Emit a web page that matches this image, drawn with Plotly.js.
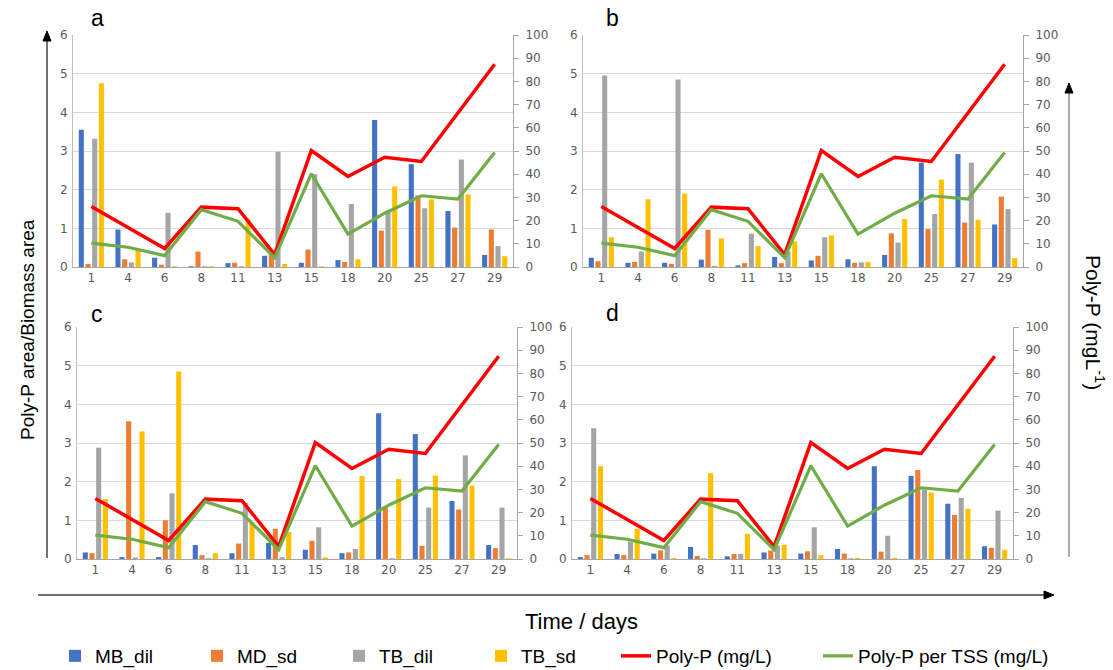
<!DOCTYPE html>
<html>
<head>
<meta charset="utf-8">
<script src="https://cdn.plot.ly/plotly-3.0.1.min.js"></script>
<style>html,body{margin:0;padding:0;background:#fff;}#chart{width:1113px;height:670px;}</style>
</head>
<body>
<div id="chart"></div>
<script>
// ---- data ----
const days = ['1','4','6','8','11','13','15','18','20','25','27','29'];
const seriesNames = ['MB_dil','MD_sd','TB_dil','TB_sd'];
const lineNames = ['Poly-P (mg/L)','Poly-P per TSS (mg/L)'];
const polyP    = [26.1, 17.2, 8.0, 25.8, 25.1, 5.3, 50.2, 39.0, 47.3, 45.5, 66.3, 87.4];
const polyPTSS = [10.3, 8.5, 4.9, 24.7, 19.7, 4.0, 40.2, 14.2, 23.2, 30.7, 29.3, 49.4];

// panel a
const aMB    = [3.55, 0.97, 0.24, 0.02, 0.10, 0.29, 0.11, 0.18, 3.80, 2.66, 1.45, 0.31];
const aMD    = [0.08, 0.20, 0.06, 0.40, 0.11, 0.40, 0.45, 0.13, 0.94, 1.85, 1.02, 0.97];
const aTBdil = [3.32, 0.12, 1.40, 0.02, 0.02, 2.98, 2.40, 1.63, 1.45, 1.52, 2.78, 0.54];
const aTBsd  = [4.75, 0.42, 0.02, 0.02, 1.25, 0.08, 0.02, 0.20, 2.08, 1.75, 1.88, 0.28];
// panel b
const bMB    = [0.24, 0.11, 0.11, 0.19, 0.04, 0.26, 0.17, 0.20, 0.31, 2.70, 2.92, 1.10];
const bMD    = [0.15, 0.13, 0.08, 0.96, 0.10, 0.10, 0.29, 0.11, 0.87, 0.98, 1.15, 1.82];
const bTBdil = [4.95, 0.40, 4.85, 0.03, 0.86, 0.40, 0.77, 0.12, 0.63, 1.37, 2.70, 1.50];
const bTBsd  = [0.77, 1.75, 1.90, 0.74, 0.54, 0.66, 0.82, 0.13, 1.24, 2.26, 1.22, 0.23];
// panel c
const cMB    = [0.17, 0.05, 0.05, 0.36, 0.15, 0.42, 0.24, 0.15, 3.77, 3.23, 1.50, 0.36];
const cMD    = [0.15, 3.56, 1.00, 0.10, 0.40, 0.78, 0.47, 0.17, 1.35, 0.34, 1.28, 0.28];
const cTBdil = [2.88, 0.04, 1.70, 0.02, 1.45, 0.05, 0.82, 0.26, 0.02, 1.33, 2.68, 1.33];
const cTBsd  = [1.55, 3.30, 4.85, 0.15, 0.95, 0.70, 0.04, 2.15, 2.07, 2.16, 1.90, 0.02];
// panel d
const dMB    = [0.05, 0.13, 0.14, 0.31, 0.07, 0.17, 0.14, 0.26, 2.40, 2.15, 1.43, 0.33];
const dMD    = [0.10, 0.10, 0.22, 0.08, 0.13, 0.22, 0.20, 0.14, 0.19, 2.30, 1.14, 0.29];
const dTBdil = [3.38, 0.45, 0.35, 0.02, 0.13, 0.35, 0.82, 0.02, 0.60, 1.80, 1.58, 1.25];
const dTBsd  = [2.40, 0.78, 0.03, 2.22, 0.65, 0.37, 0.10, 0.03, 0.03, 1.72, 1.30, 0.24];

const panelLetters = ['a','b','c','d'];
const leftTicks = [0,1,2,3,4,5,6];
const rightTicks = [0,10,20,30,40,50,60,70,80,90,100];

// ---- style ----
const barColors = ['#4472C4','#ED7D31','#A5A5A5','#FFC000'];
const lineColors = ['#FF0000','#70AD47'];
const W = 1113, H = 670;
const px = v => v / W, py = v => 1 - v / H;

const panels = [
  {bars:[aMB,aMD,aTBdil,aTBsd], xd:[73,513],  yd:[35,267],  letter:[97,18]},
  {bars:[bMB,bMD,bTBdil,bTBsd], xd:[583,1023], yd:[35,267],  letter:[612,18]},
  {bars:[cMB,cMD,cTBdil,cTBsd], xd:[77,517],  yd:[327,559], letter:[97,314]},
  {bars:[dMB,dMD,dTBdil,dTBsd], xd:[572,1013], yd:[327,559], letter:[612,313]}
];

const tickFont = {family:'DejaVu Sans, sans-serif', size:12, color:'#595959'};
const sans = 'Liberation Sans, Arial, sans-serif';

const traces = [];
const layout = {
  width:W, height:H,
  margin:{l:0,r:0,t:0,b:0,autoexpand:false},
  paper_bgcolor:'#fff', plot_bgcolor:'rgba(0,0,0,0)',
  barmode:'group', bargap:0.27, bargroupgap:0.24,
  showlegend:true,
  legend:{orientation:'h', x:px(55), y:py(656), xanchor:'left', yanchor:'middle',
          font:{family:sans, size:19, color:'#000'}, entrywidth:97, bgcolor:'rgba(0,0,0,0)'},
  legend2:{orientation:'h', x:px(616), y:py(656), xanchor:'left', yanchor:'middle',
          font:{family:sans, size:19, color:'#000'}, bgcolor:'rgba(0,0,0,0)'},
  annotations:[], shapes:[]
};

panels.forEach((p, i) => {
  const n = i + 1;
  const xId = n === 1 ? 'x' : 'x' + n;
  const yL = 2*i + 1, yR = 2*i + 2;
  const yLId = yL === 1 ? 'y' : 'y' + yL;
  const yRId = 'y' + yR;
  const xKey = n === 1 ? 'xaxis' : 'xaxis' + n;
  const yLKey = yL === 1 ? 'yaxis' : 'yaxis' + yL;
  const yRKey = 'yaxis' + yR;

  layout[xKey] = {
    domain:[px(p.xd[0]), px(p.xd[1])], anchor:yLId, type:'category',
    categoryorder:'array', categoryarray:days,
    showline:true, linecolor:'#A6A6A6', linewidth:1, ticks:'', tickfont:tickFont,
    showgrid:false, zeroline:false, fixedrange:true
  };
  layout[yLKey] = {
    domain:[py(p.yd[1]), py(p.yd[0])], anchor:xId, range:[0,6],
    tickvals:leftTicks, showline:true, linecolor:'#BFBFBF', linewidth:1, ticks:'',
    showgrid:true, gridcolor:'#D9D9D9', gridwidth:1, zeroline:false, tickfont:tickFont,
    ticklabelstandoff:2
  };
  layout[yRKey] = {
    overlaying:yLId, side:'right', anchor:xId, range:[0,100], tickvals:rightTicks,
    showline:true, linecolor:'#A6A6A6', linewidth:1, ticks:'outside', ticklen:5,
    tickcolor:'#A6A6A6', showgrid:false, zeroline:false, tickfont:tickFont,
    ticklabelstandoff:4
  };

  p.bars.forEach((vals, k) => {
    traces.push({
      type:'bar', x:days, y:vals, name:seriesNames[k], xaxis:xId, yaxis:yLId,
      marker:{color:barColors[k], line:{width:0}}, showlegend:i === 0, legend:'legend'
    });
  });
  [polyP, polyPTSS].forEach((vals, k) => {
    traces.push({
      type:'scatter', mode:'lines', x:days, y:vals, name:lineNames[k],
      xaxis:xId, yaxis:yRId, line:{color:lineColors[k], width:k === 0 ? 3.5 : 3.2},
      showlegend:i === 0, legend:'legend2', legendwidth:k === 0 ? 157 : 200
    });
  });

  layout.annotations.push({
    text:panelLetters[i], xref:'paper', yref:'paper', x:px(p.letter[0]), y:py(p.letter[1]),
    xanchor:'center', yanchor:'middle', showarrow:false,
    font:{family:sans, size:23, color:'#000'}
  });
});

// axis titles
layout.annotations.push({
  text:'Poly-P area/Biomass area', xref:'paper', yref:'paper', x:px(27), y:py(330),
  xanchor:'center', yanchor:'middle', textangle:-90, showarrow:false,
  font:{family:sans, size:19, color:'#000'}
});
layout.annotations.push({
  text:'Poly-P (mgL<sup>-1</sup>)', xref:'paper', yref:'paper', x:px(1095), y:py(322),
  xanchor:'center', yanchor:'middle', textangle:90, showarrow:false,
  font:{family:sans, size:21, color:'#000'}
});
layout.annotations.push({
  text:'Time / days', xref:'paper', yref:'paper', x:px(581), y:py(621),
  xanchor:'center', yanchor:'middle', showarrow:false,
  font:{family:sans, size:22, color:'#000'}
});

// arrows: lines + triangular heads
const arrowLine = (x0, y0, x1, y1, c) => ({type:'line', xref:'paper', yref:'paper',
  x0:px(x0), y0:py(y0), x1:px(x1), y1:py(y1), line:{color:c, width:1.3}});
const arrowHead = (pts, c) => ({type:'path', xref:'paper', yref:'paper',
  path:'M' + pts.map(p => px(p[0]) + ',' + py(p[1])).join(' L') + ' Z',
  fillcolor:c, line:{color:c, width:1}});
layout.shapes.push(arrowLine(47, 40, 47, 558, '#262626'));
layout.shapes.push(arrowHead([[47,31],[43,41],[51,41]], '#000'));
layout.shapes.push(arrowLine(1069, 92, 1069, 557, '#7F7F7F'));
layout.shapes.push(arrowHead([[1069,83],[1065,93],[1073,93]], '#000'));
layout.shapes.push(arrowLine(38, 595, 1046, 595, '#404040'));
layout.shapes.push(arrowHead([[1054,595],[1044,591],[1044,599]], '#000'));

Plotly.newPlot('chart', traces, layout, {displayModeBar:false, staticPlot:true});
</script>
</body>
</html>
